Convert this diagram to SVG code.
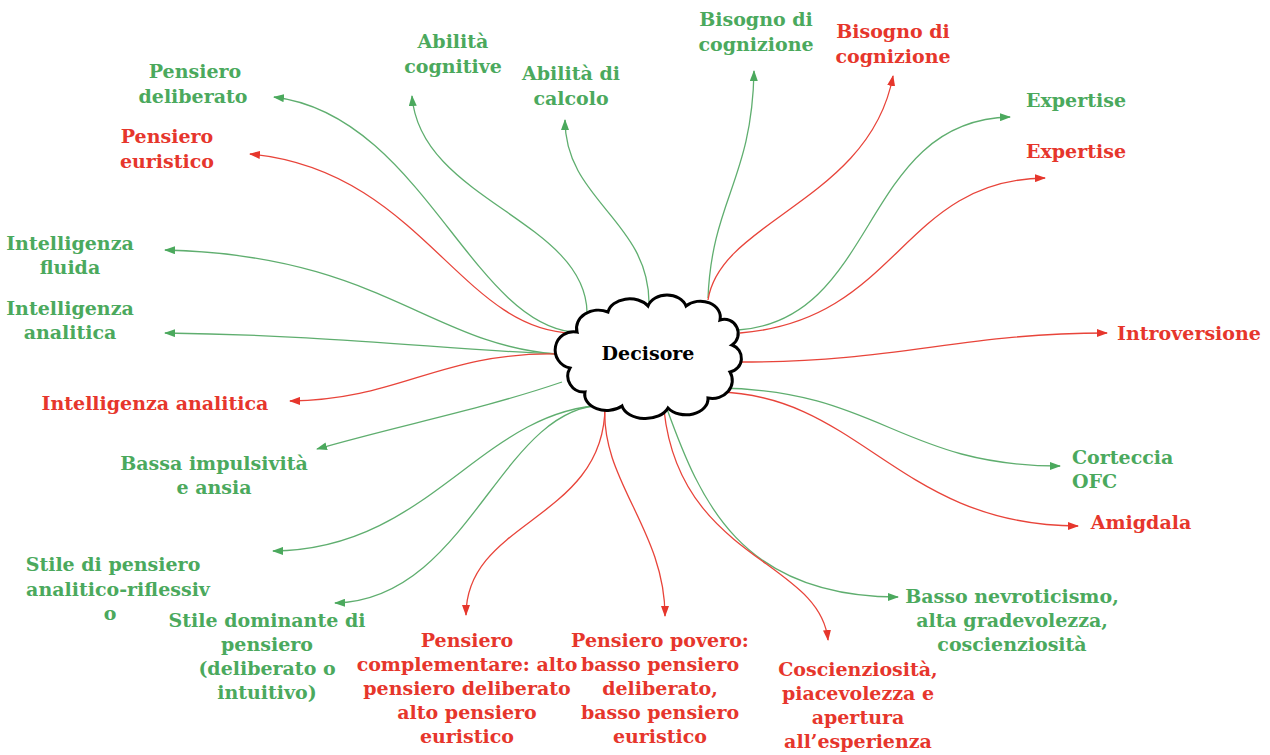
<svg xmlns="http://www.w3.org/2000/svg" width="1270" height="755" viewBox="0 0 1270 755">
<defs>
<style>
.t{font-family:"DejaVu Serif","Liberation Serif",serif;font-weight:bold;font-size:19px;text-anchor:middle}
.g{fill:#4ba95d}
.r{fill:#e6362c}
.cg{fill:none;stroke:#5fae6f;stroke-width:1.3;marker-end:url(#ag)}
.cr{fill:none;stroke:#e8443a;stroke-width:1.3;marker-end:url(#ar)}
</style>
<marker id="ag" markerUnits="userSpaceOnUse" markerWidth="11" markerHeight="8" refX="10" refY="4" orient="auto"><path d="M0,0 L11,4 L0,8 z" fill="#4ba95d"/></marker>
<marker id="ar" markerUnits="userSpaceOnUse" markerWidth="11" markerHeight="8" refX="10" refY="4" orient="auto"><path d="M0,0 L11,4 L0,8 z" fill="#e6362c"/></marker>
</defs>
<rect width="1270" height="755" fill="#fff"/>
<g id="connectors">
<path class="cg" d="M557 354 C430 345 380 255 165 250"/>
<path class="cg" d="M557 354 C450 350 330 335 165 333"/>
<path class="cr" d="M557 354 C440 352 400 400 290 401"/>
<path class="cg" d="M572 332 C470 320 420 115 274 97"/>
<path class="cr" d="M572 333 C460 330 420 170 250 154"/>
<path class="cg" d="M587 312 C585 220 420 200 412 96"/>
<path class="cg" d="M649 302 C648 220 565 200 565 120"/>
<path class="cg" d="M708 298 C712 200 752 180 754 71"/>
<path class="cr" d="M708 300 C720 220 870 200 893 76"/>
<path class="cg" d="M738 330 C880 320 860 120 1010 117"/>
<path class="cr" d="M740 333 C900 320 900 180 1045 178"/>
<path class="cr" d="M740 362 C900 362 960 333 1107 333"/>
<path class="cg" d="M718 388 C880 390 900 466 1060 466"/>
<path class="cr" d="M718 392 C860 395 900 526 1078 526"/>
<path class="cg" d="M667 409 C700 500 740 597 898 597"/>
<path class="cr" d="M664 410 C680 560 820 560 828 640"/>
<path class="cr" d="M605 406 C600 480 665 530 665 616"/>
<path class="cr" d="M605 406 C605 520 466 520 466 615"/>
<path class="cg" d="M605 405 C500 405 470 600 335 603"/>
<path class="cg" d="M605 405 C480 410 430 550 273 551"/>
<path class="cg" d="M562 382 C480 410 400 425 317 449"/>
</g>
<g id="decisore">
<path d="M577 332 A22 18 0 0 1 608 312 A22 16 0 0 1 648 306 A20 16 0 0 1 686 306 A20 16 0 0 1 720 320 A14 14 0 0 1 732 345 A14 14 0 0 1 730 372 A20 18 0 0 1 708 398 A22 16 0 0 1 668 408 A24 16 0 0 1 622 406 A22 16 0 0 1 585 392 A16 16 0 0 1 570 368 A13 13 0 0 1 577 332 Z" fill="#fff" stroke="#000" stroke-width="3"/>
<text class="t" x="648" y="360" fill="#000" font-size="18">Decisore</text>
</g>
<g id="n1"><text class="t g" x="195" y="78"><tspan x="195">Pensiero</tspan><tspan x="193" dy="24.5">deliberato</tspan></text></g>
<g id="n2"><text class="t r" x="167" y="143"><tspan x="167">Pensiero</tspan><tspan x="167" dy="24.5">euristico</tspan></text></g>
<g id="n3"><text class="t g" x="453" y="48"><tspan x="453">Abilità</tspan><tspan x="453" dy="24.5">cognitive</tspan></text></g>
<g id="n4"><text class="t g" x="571" y="80"><tspan x="571">Abilità di</tspan><tspan x="571" dy="24.5">calcolo</tspan></text></g>
<g id="n5"><text class="t g" x="756" y="26"><tspan x="756">Bisogno di</tspan><tspan x="756" dy="24.5">cognizione</tspan></text></g>
<g id="n6"><text class="t r" x="893" y="38"><tspan x="893">Bisogno di</tspan><tspan x="893" dy="24.5">cognizione</tspan></text></g>
<g id="n7"><text class="t g" x="1076" y="107">Expertise</text></g>
<g id="n8"><text class="t r" x="1076" y="158">Expertise</text></g>
<g id="n9"><text class="t r" x="1189" y="340">Introversione</text></g>
<g id="n10"><text class="t g" x="1072" y="464" style="text-anchor:start"><tspan x="1072">Corteccia</tspan><tspan x="1072" dy="24">OFC</tspan></text></g>
<g id="n11"><text class="t r" x="1141" y="529">Amigdala</text></g>
<g id="n12"><text class="t g" x="1012" y="603"><tspan x="1012">Basso nevroticismo,</tspan><tspan x="1012" dy="24">alta gradevolezza,</tspan><tspan x="1012" dy="24">coscienziosità</tspan></text></g>
<g id="n13"><text class="t r" x="858" y="676"><tspan x="858">Coscienziosità,</tspan><tspan x="858" dy="24">piacevolezza e</tspan><tspan x="858" dy="24">apertura</tspan><tspan x="858" dy="24">all’esperienza</tspan></text></g>
<g id="n14"><text class="t r" x="660" y="647"><tspan x="660">Pensiero povero:</tspan><tspan x="660" dy="24">basso pensiero</tspan><tspan x="660" dy="24">deliberato,</tspan><tspan x="660" dy="24">basso pensiero</tspan><tspan x="660" dy="24">euristico</tspan></text></g>
<g id="n15"><text class="t r" x="467" y="647"><tspan x="467">Pensiero</tspan><tspan x="467" dy="24">complementare: alto</tspan><tspan x="467" dy="24">pensiero deliberato</tspan><tspan x="467" dy="24">alto pensiero</tspan><tspan x="467" dy="24">euristico</tspan></text></g>
<g id="n16"><text class="t g" x="267" y="627"><tspan x="267">Stile dominante di</tspan><tspan x="267" dy="24">pensiero</tspan><tspan x="267" dy="24">(deliberato o</tspan><tspan x="267" dy="24">intuitivo)</tspan></text></g>
<g id="n17"><text class="t g" x="115" y="571"><tspan x="113">Stile di pensiero</tspan><tspan x="118" dy="24.5">analitico-riflessiv</tspan><tspan x="110" dy="24.5">o</tspan></text></g>
<g id="n18"><text class="t g" x="214" y="470"><tspan x="214">Bassa impulsività</tspan><tspan x="214" dy="24">e ansia</tspan></text></g>
<g id="n19"><text class="t r" x="155" y="410">Intelligenza analitica</text></g>
<g id="n20"><text class="t g" x="70" y="315"><tspan x="70">Intelligenza</tspan><tspan x="70" dy="24">analitica</tspan></text></g>
<g id="n21"><text class="t g" x="70" y="250"><tspan x="70">Intelligenza</tspan><tspan x="70" dy="24">fluida</tspan></text></g>
</svg>
